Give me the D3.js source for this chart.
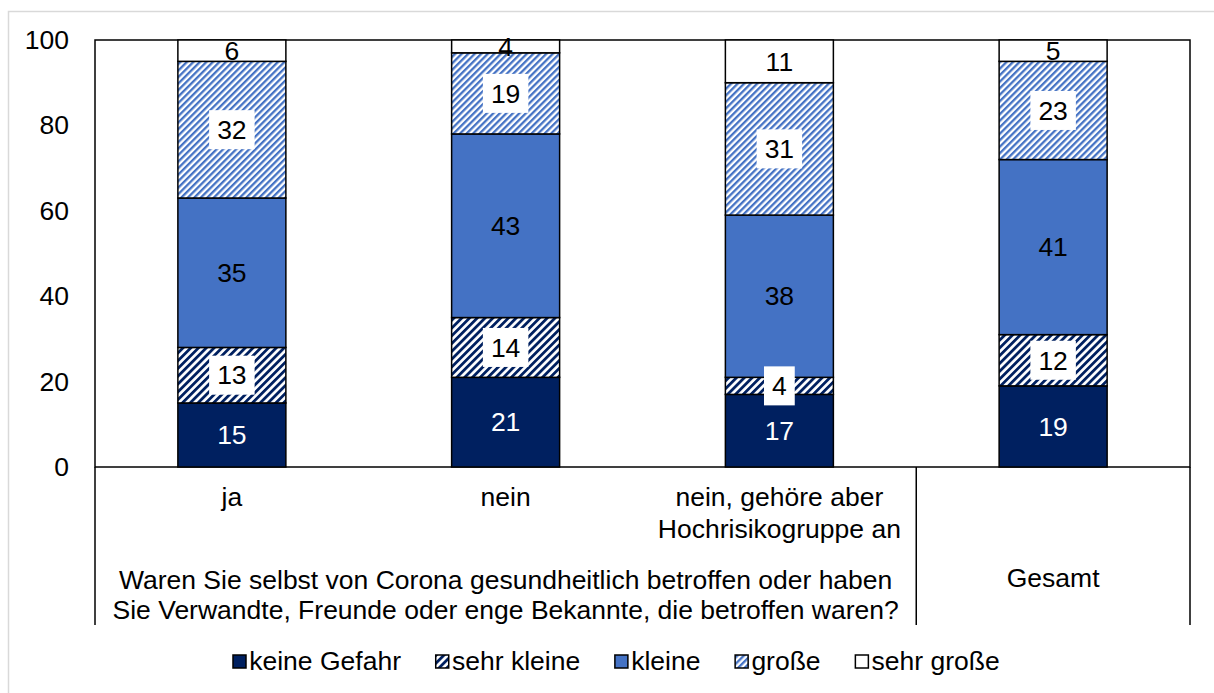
<!DOCTYPE html>
<html lang="de">
<head>
<meta charset="UTF-8" />
<title>Gefahr durch Corona</title>
<script src="https://d3js.org/d3.v7.min.js"></script>
<style>
  body { margin: 0; padding: 0; background: #fff; }
  svg text { font-family: 'Liberation Sans', Arial, sans-serif; fill: #000; }
</style>
</head>
<body>
<svg id="chart" width="1214" height="693"></svg>
<script>
// --- data ---
const categories = ['ja', 'nein', 'nein, gehöre aber Hochrisikogruppe an', 'Gesamt'];
const categoryLines = [['ja'], ['nein'], ['nein, gehöre aber', 'Hochrisikogruppe an'], ['Gesamt']];
const groupLines = ['Waren Sie selbst von Corona gesundheitlich betroffen oder haben',
                    'Sie Verwandte, Freunde oder enge Bekannte, die betroffen waren?'];
const seriesNames = ['keine Gefahr', 'sehr kleine', 'kleine', 'große', 'sehr große'];
const keineGefahr = [15, 21, 17, 19];
const sehrKleine = [13, 14, 4, 12];
const kleine = [35, 43, 38, 41];
const grosse = [32, 19, 31, 23];
const sehrGrosse = [6, 4, 11, 5];
const yTicks = [0, 20, 40, 60, 80, 100];

const seriesValues = [keineGefahr, sehrKleine, kleine, grosse, sehrGrosse];
const rows = categories.map((c, i) => {
  const r = { cat: c };
  seriesNames.forEach((s, j) => r[s] = seriesValues[j][i]);
  return r;
});

const FS = 26.5;
const svg = d3.select('#chart');
const plot = { left: 95, right: 1190, top: 40, bottom: 467 };

// outer frame
svg.append('rect').attr('x', 8.5).attr('y', 11.5).attr('width', 1300).attr('height', 800)
  .attr('fill', 'none').attr('stroke', '#d9d9d9').attr('stroke-width', 1.5);

// patterns
const defs = svg.append('defs');
function stripes(id, color, size, w) {
  const p = defs.append('pattern').attr('id', id).attr('patternUnits', 'userSpaceOnUse')
    .attr('width', size).attr('height', size).attr('patternTransform', 'rotate(45)');
  p.append('rect').attr('width', size).attr('height', size).attr('fill', '#fff');
  p.append('rect').attr('width', w).attr('height', size).attr('fill', color);
}
stripes('pSehrKleine', '#002060', 5.5, 2.8);
stripes('pGrosse', '#4472C4', 4.6, 2.3);

const fills = {
  'keine Gefahr': '#002060',
  'sehr kleine': 'url(#pSehrKleine)',
  'kleine': '#4472C4',
  'große': 'url(#pGrosse)',
  'sehr große': '#ffffff'
};
const labelColor = { 'keine Gefahr': '#fff' };
const labelBox = { 'sehr kleine': true, 'große': true };

const x = d3.scaleBand().domain(categories).range([plot.left, plot.right])
  .paddingInner(0.6055).paddingOuter(0.30275);
const y = d3.scaleLinear().domain([0, 100]).range([plot.bottom, plot.top]);

// y axis labels
const yAxis = svg.append('g').attr('transform', `translate(${plot.left},0)`)
  .call(d3.axisLeft(y).tickValues(yTicks).tickSize(0).tickPadding(26));
yAxis.select('.domain').remove();
yAxis.selectAll('text').attr('font-size', FS).attr('font-family', "'Liberation Sans', Arial, sans-serif");

// plot box
svg.append('rect').attr('x', plot.left).attr('y', plot.top)
  .attr('width', plot.right - plot.left).attr('height', plot.bottom - plot.top)
  .attr('fill', 'none').attr('stroke', '#000').attr('stroke-width', 1.5);

// stacked bars
const stack = d3.stack().keys(seriesNames)(rows);
const layers = svg.append('g').selectAll('g').data(stack).join('g');
layers.selectAll('rect').data(d => d.map(s => ({ key: d.key, s }))).join('rect')
  .attr('x', d => x(d.s.data.cat))
  .attr('width', x.bandwidth())
  .attr('y', d => y(Math.min(100, d.s[1])))
  .attr('height', d => y(Math.min(100, d.s[0])) - y(Math.min(100, d.s[1])))
  .attr('fill', d => fills[d.key])
  .attr('stroke', '#000').attr('stroke-width', 1.5);

// data labels
const labels = svg.append('g');
stack.forEach(layer => {
  layer.forEach(s => {
    const cx = x(s.data.cat) + x.bandwidth() / 2;
    const cy = (y(Math.min(100, s[0])) + y(Math.min(100, s[1]))) / 2;
    const v = s.data[layer.key];
    const g = labels.append('g');
    const boxed = labelBox[layer.key];
    const bg = g.append('rect');
    const t = g.append('text').attr('x', cx).attr('y', cy).attr('dy', '0.35em')
      .attr('text-anchor', 'middle').attr('font-size', FS)
      .style('fill', labelColor[layer.key] || '#000').text(v);
    if (boxed) {
      const w = t.node().getComputedTextLength() + 16;
      bg.attr('x', cx - w / 2).attr('y', cy - 19.5).attr('width', w).attr('height', 39).attr('fill', '#fff');
    } else bg.remove();
  });
});

// category axis area
const axisBottom = 625;
const step = x.step();
[plot.left, plot.left + step * 3, plot.right].forEach(lx => {
  svg.append('line').attr('x1', lx).attr('x2', lx).attr('y1', plot.bottom).attr('y2', axisBottom)
    .attr('stroke', '#000').attr('stroke-width', 1.5);
});
categories.forEach((c, i) => {
  const cx = x(c) + x.bandwidth() / 2;
  const lines = categoryLines[i];
  const baseY = c === 'Gesamt' ? 587 : 506;
  lines.forEach((l, k) => {
    svg.append('text').attr('x', cx).attr('y', baseY + k * 32).attr('text-anchor', 'middle')
      .attr('font-size', FS).text(l);
  });
});
const gx = (plot.left + plot.left + step * 3) / 2;
groupLines.forEach((l, k) => {
  svg.append('text').attr('x', gx).attr('y', 589 + k * 30).attr('text-anchor', 'middle')
    .attr('font-size', FS).text(l);
});

// legend
const legend = svg.append('g');
const legGap = 34;
let lx = 0;
seriesNames.forEach(s => {
  const g = legend.append('g').attr('transform', `translate(${lx},0)`);
  g.append('rect').attr('x', 0.75).attr('y', -15).attr('width', 13).attr('height', 13)
    .attr('fill', fills[s]).attr('stroke', '#000').attr('stroke-width', 1.5);
  const t = g.append('text').attr('x', 17).attr('y', 0).attr('font-size', FS).text(s);
  lx += 17 + t.node().getComputedTextLength() + legGap;
});
const legW = lx - legGap;
legend.attr('transform', `translate(${616 - legW / 2},670)`);
</script>
</body>
</html>
